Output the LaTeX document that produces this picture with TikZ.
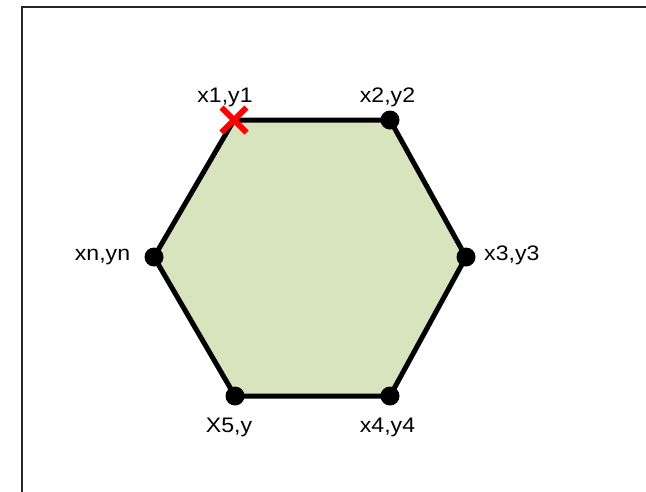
\documentclass[tikz,border=0pt]{standalone}
\usepackage{fontspec}
\setmainfont{Liberation Sans}
\definecolor{hexfill}{HTML}{D7E4BD}
\begin{document}
\begin{tikzpicture}[x=1pt,y=-1pt,
  vdot/.style={circle,fill=black,inner sep=0pt,minimum size=19pt},
  lbl/.style={inner sep=0pt,anchor=base,font=\fontsize{21}{25}\selectfont},
  edge/.style={line width=5pt,line join=miter}]
\useasboundingbox (0,0) rectangle (646,491);
\draw[line width=2pt,black!85] (21.5,700) -- (21.5,6.5) -- (700,6.5);
\coordinate (v1) at (234,120);
\coordinate (v2) at (390,120);
\coordinate (v3) at (466,257);
\coordinate (v4) at (390,396);
\coordinate (v5) at (235,396);
\coordinate (vn) at (154,257);
\filldraw[edge,fill=hexfill] (v1) -- (v2) -- (v3) -- (v4) -- (v5) -- (vn) -- cycle;
\node[vdot] (d2) at (v2) {};
\node[vdot] (d3) at (v3) {};
\node[vdot] (d4) at (v4) {};
\node[vdot] (d5) at (v5) {};
\node[vdot] (dn) at (vn) {};
\draw[red,line width=6pt] ([shift={(-12.5,-12.5)}]v1) -- ([shift={(12.5,12.5)}]v1)
                          ([shift={(-12.5,12.5)}]v1) -- ([shift={(12.5,-12.5)}]v1);
\node[lbl] (l1) at (225,102) {\scalebox{1.1}[1]{x1,y1}};
\node[lbl] (l2) at (387.5,102) {\scalebox{1.1}[1]{x2,y2}};
\node[lbl,anchor=base west] (l3) at (484,260) {\scalebox{1.1}[1]{x3,y3}};
\node[lbl] (ln) at (102.5,260) {\scalebox{1.1}[1]{xn,yn}};
\node[lbl] (l5) at (229,432) {\scalebox{1.1}[1]{X5,y}};
\node[lbl] (l4) at (387.5,432) {\scalebox{1.1}[1]{x4,y4}};
\end{tikzpicture}
\end{document}
